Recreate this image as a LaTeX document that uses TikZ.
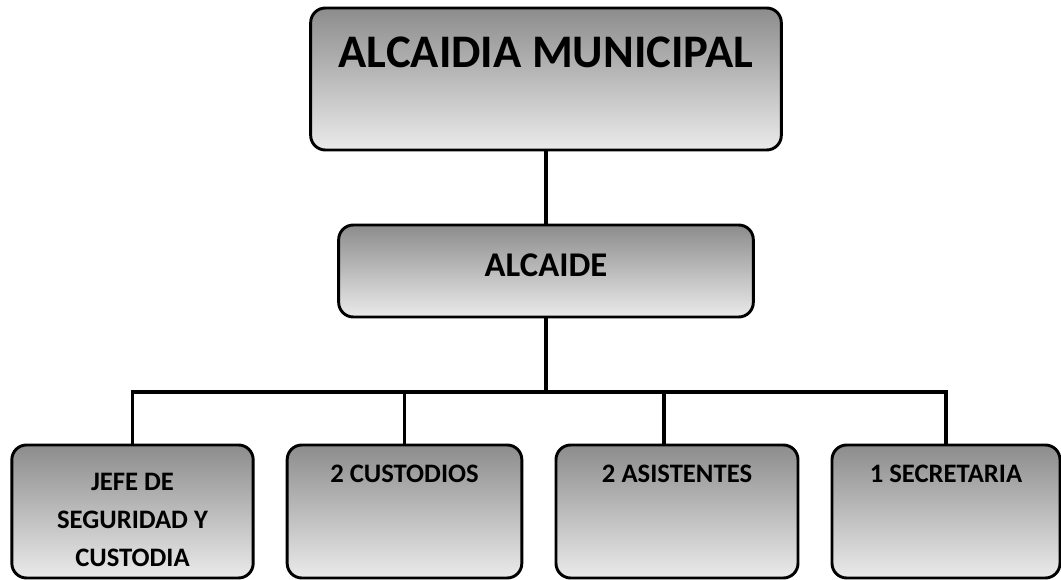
\documentclass[tikz,border=0pt]{standalone}
\usepackage{fontspec}
\setmainfont{Carlito}

\begin{document}
\begin{tikzpicture}[
  x=0.75pt, y=-0.75pt,
  box/.style={draw, line width=2.2pt, rounded corners=11pt, inner sep=0pt,
    top color=black!45, bottom color=black!8, align=center},
  head/.style={box, minimum width=353pt, text height=45pt, text depth=61.5pt,
    font=\fontsize{35}{38}\selectfont\bfseries},
  chief/.style={box, minimum width=311pt, text height=39pt, text depth=30pt,
    font=\fontsize{26}{30}\selectfont\bfseries},
  unit/.style={box, text height=28.5pt, text depth=71.25pt,
    font=\fontsize{20}{28.5}\selectfont\bfseries},
  conn/.style={line width=2.6pt}
]
\useasboundingbox (0,0) rectangle (1061,580);

\node[head] (alc) at (546,79) {ALCAIDIA MUNICIPAL};
\node[chief] (alcde) at (546,271) {ALCAIDE};

\node[unit, minimum width=181pt, text height=91.5pt, text depth=8.25pt] (jefe) at (132.5,511.5)
  {JEFE DE\\SEGURIDAD Y\\CUSTODIA};
\node[unit, minimum width=176pt] (cust) at (404.5,511.5) {2 CUSTODIOS};
\node[unit, minimum width=181.5pt] (asis) at (677,511.5) {2 ASISTENTES};
\node[unit, minimum width=171pt] (sec) at (946,511.5) {1 SECRETARIA};

\coordinate (bus) at (546,392);

\draw[conn] (alc) -- (alcde);
\draw[conn] (alcde.south) -- (bus);
\draw[conn] (jefe.north) |- (sec.north |- bus) -- (sec.north);
\draw[conn] (cust.north) -- (cust.north |- bus);
\draw[conn] ([xshift=-9.75pt]asis.north) -- ([xshift=-9.75pt]asis.north |- bus);
\end{tikzpicture}
\end{document}
